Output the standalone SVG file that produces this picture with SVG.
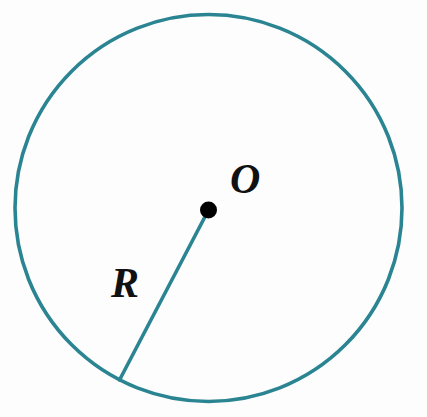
<svg xmlns="http://www.w3.org/2000/svg" width="427" height="417" viewBox="0 0 427 417">
<style>
.stroke{fill:none;stroke:#2a8492;stroke-width:3.6;stroke-linecap:round}
.lbl{font-family:"Liberation Serif","DejaVu Serif",serif;font-style:italic;font-weight:bold;font-size:42px;fill:#111}
</style>
<rect width="427" height="417" fill="#fdfdfd"/>
<g id="circle"><circle class="stroke" cx="208.5" cy="208" r="193.5"/></g>
<g id="connectors"><line class="stroke" x1="208.5" y1="210" x2="119.5" y2="380"/></g>
<g id="center"><circle cx="208.5" cy="210" r="8.5" fill="#000"/><text class="lbl" x="230" y="193">O</text></g>
<g id="radius-label"><text class="lbl" x="111" y="297">R</text></g>
</svg>
